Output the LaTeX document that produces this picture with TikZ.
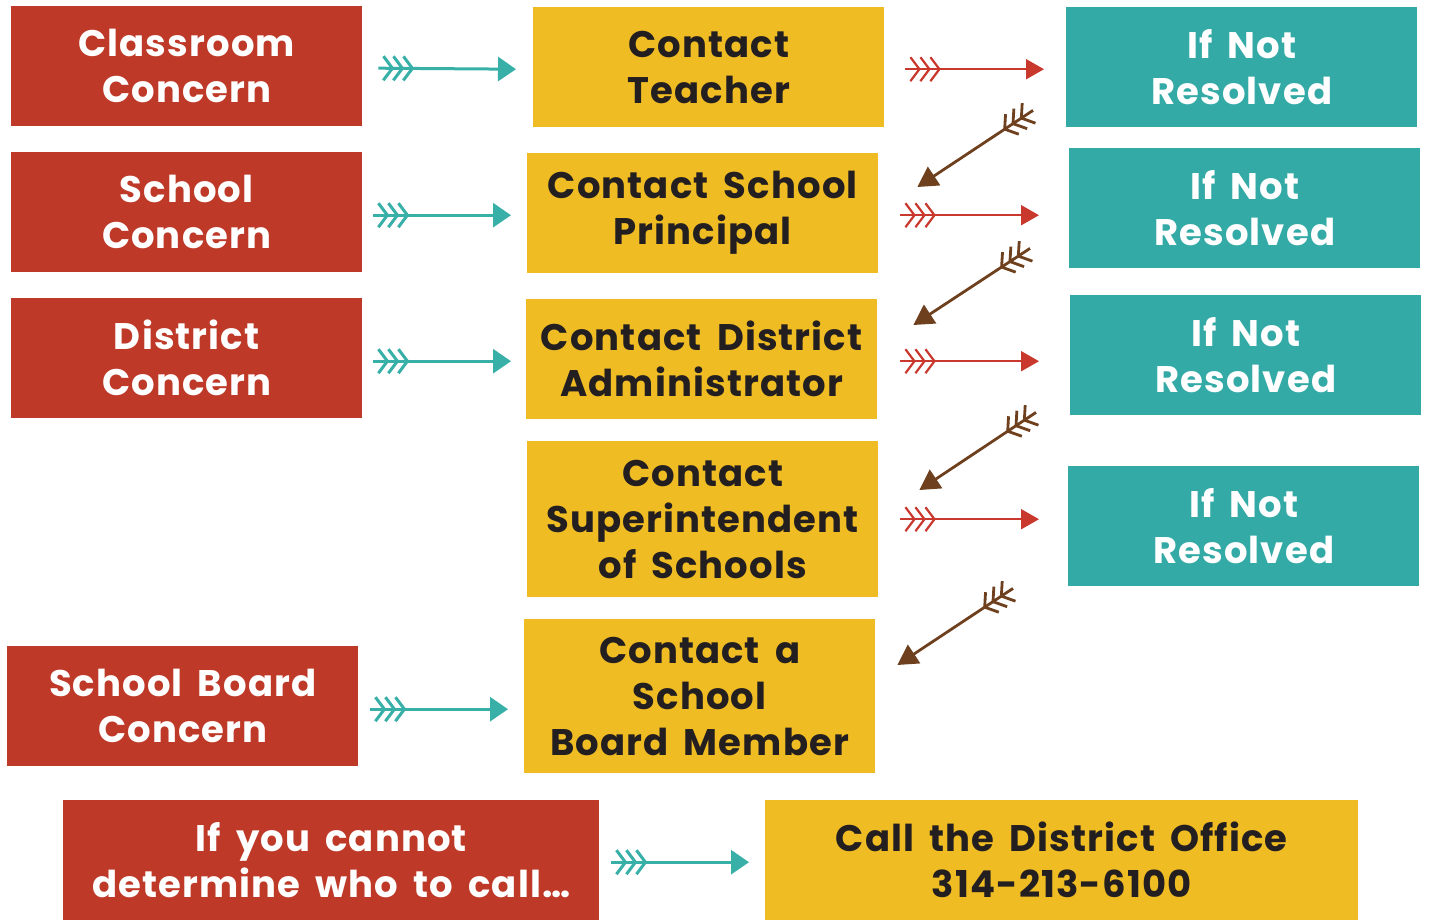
\documentclass[tikz,border=0pt]{standalone}
\usepackage{fontspec}
\setmainfont{Poppins}[LetterSpace=3,WordSpace=1.7]
\usetikzlibrary{arrows.meta,decorations.markings,calc}
\definecolor{cred}{RGB}{190,57,39}
\definecolor{cyel}{RGB}{240,188,36}
\definecolor{cteal}{RGB}{52,170,166}
\definecolor{aTeal}{RGB}{56,176,168}
\definecolor{aRed}{RGB}{200,56,44}
\definecolor{aBrown}{RGB}{110,64,30}
\definecolor{ctext}{RGB}{35,31,32}
\tikzset{
  box/.style={anchor=north west, minimum width=351, minimum height=120, inner sep=0pt, align=center,
    font=\bfseries\fontsize{37}{46}\selectfont},
  redbox/.style={box, fill=cred, text=white},
  yelbox/.style={box, fill=cyel, text=ctext},
  tealbox/.style={box, fill=cteal, text=white},
  fletch/.style n args={3}{postaction={decorate}, decoration={markings,
    mark=at position #2pt with {\draw[#1, -, line width=#3, line cap=butt] (-9,12)--(0,0)--(-9,-12);},
    mark=at position #2pt+10pt with {\draw[#1, -, line width=#3, line cap=butt] (-9,12)--(0,0)--(-9,-12);},
    mark=at position #2pt+20pt with {\draw[#1, -, line width=#3, line cap=butt] (-9,12)--(0,0)--(-9,-12);}}},
  tarrow/.style={draw=aTeal, line width=3pt, -{Triangle[length=18pt,width=24pt]}, fletch={aTeal}{14}{3pt}},
  rarrow/.style={draw=aRed, line width=2pt, -{Triangle[length=18pt,width=20pt]}, fletch={aRed}{14}{2.2pt}},
  barrow/.style={draw=aBrown, line width=2.8pt, -{Triangle[length=20pt,width=22pt]}, fletch={aBrown}{14}{2.8pt}},
}
\begin{document}
\begin{tikzpicture}[x=1pt,y=-1pt]
\useasboundingbox (0,0) rectangle (1429,920);
% red boxes
\node[redbox] (r1) at (11,6) {Classroom\\Concern};
\node[redbox] (r2) at (11,152) {School\\Concern};
\node[redbox] (r3) at (11,298) {District\\Concern};
\node[redbox] (r4) at (7,646) {School Board\\Concern};
\node[redbox, minimum width=536] (r5) at (63,800) {If you cannot\\determine who to call…};
% yellow boxes
\node[yelbox] (y1) at (533,7) {Contact\\Teacher};
\node[yelbox] (y2) at (527,153) {Contact School\\Principal};
\node[yelbox] (y3) at (526,299) {Contact District\\Administrator};
\node[yelbox, minimum height=156] (y4) at (527,441) {Contact\\Superintendent\\of Schools};
\node[yelbox, minimum width=351, minimum height=154] (y5) at (524,619) {Contact a\\School\\Board Member};
\node[yelbox, minimum width=593] (y6) at (765,800) {Call the District Office\\314-213-6100};
% teal boxes
\node[tealbox] (t1) at (1066,7) {If Not\\Resolved};
\node[tealbox] (t2) at (1069,148) {If Not\\Resolved};
\node[tealbox] (t3) at (1070,295) {If Not\\Resolved};
\node[tealbox] (t4) at (1068,466) {If Not\\Resolved};
% teal arrows
\draw[tarrow] ($(r1.east)+(16,2)$) -- ($(y1.west)+(-17,2)$);
\draw[tarrow] ($(r2.east)+(11,3)$) -- ($(r2.east -| y2.west)+(-16,3)$);
\draw[tarrow] ($(r3.east)+(11,3)$) -- ($(r3.east -| y3.west)+(-15,3)$);
\draw[tarrow] ($(r4.east)+(12,3)$) -- ($(r4.east -| y5.west)+(-16,3)$);
\draw[tarrow] ($(r5.east)+(12,2)$) -- ($(r5.east -| y6.west)+(-16,2)$);
% red arrows
\draw[rarrow] ($(y1.east)+(21,2)$) -- ($(y1.east -| t1.west)+(-22,2)$);
\draw[rarrow] ($(y2.east)+(22,2)$) -- ($(y2.east -| t2.west)+(-30,2)$);
\draw[rarrow] ($(y3.east)+(23,2)$) -- ($(y3.east -| t3.west)+(-31,2)$);
\draw[rarrow] ($(y4.east)+(22,0)$) -- ($(y4.east -| t4.west)+(-29,0)$);
% brown arrows
\draw[barrow] ($(t1.south west)+(-33,-17)$) -- ($(y2.north east)+(39,34)$);
\draw[barrow] ($(t2.south west)+(-39,-20)$) -- ($(y3.north east)+(36,26)$);
\draw[barrow] ($(t3.south west)+(-34,-3)$) -- ($(y4.north east)+(41,49)$);
\draw[barrow] ($(t4.south west)+(-55,2)$) -- ($(y5.north east)+(22,46)$);
\end{tikzpicture}
\end{document}
